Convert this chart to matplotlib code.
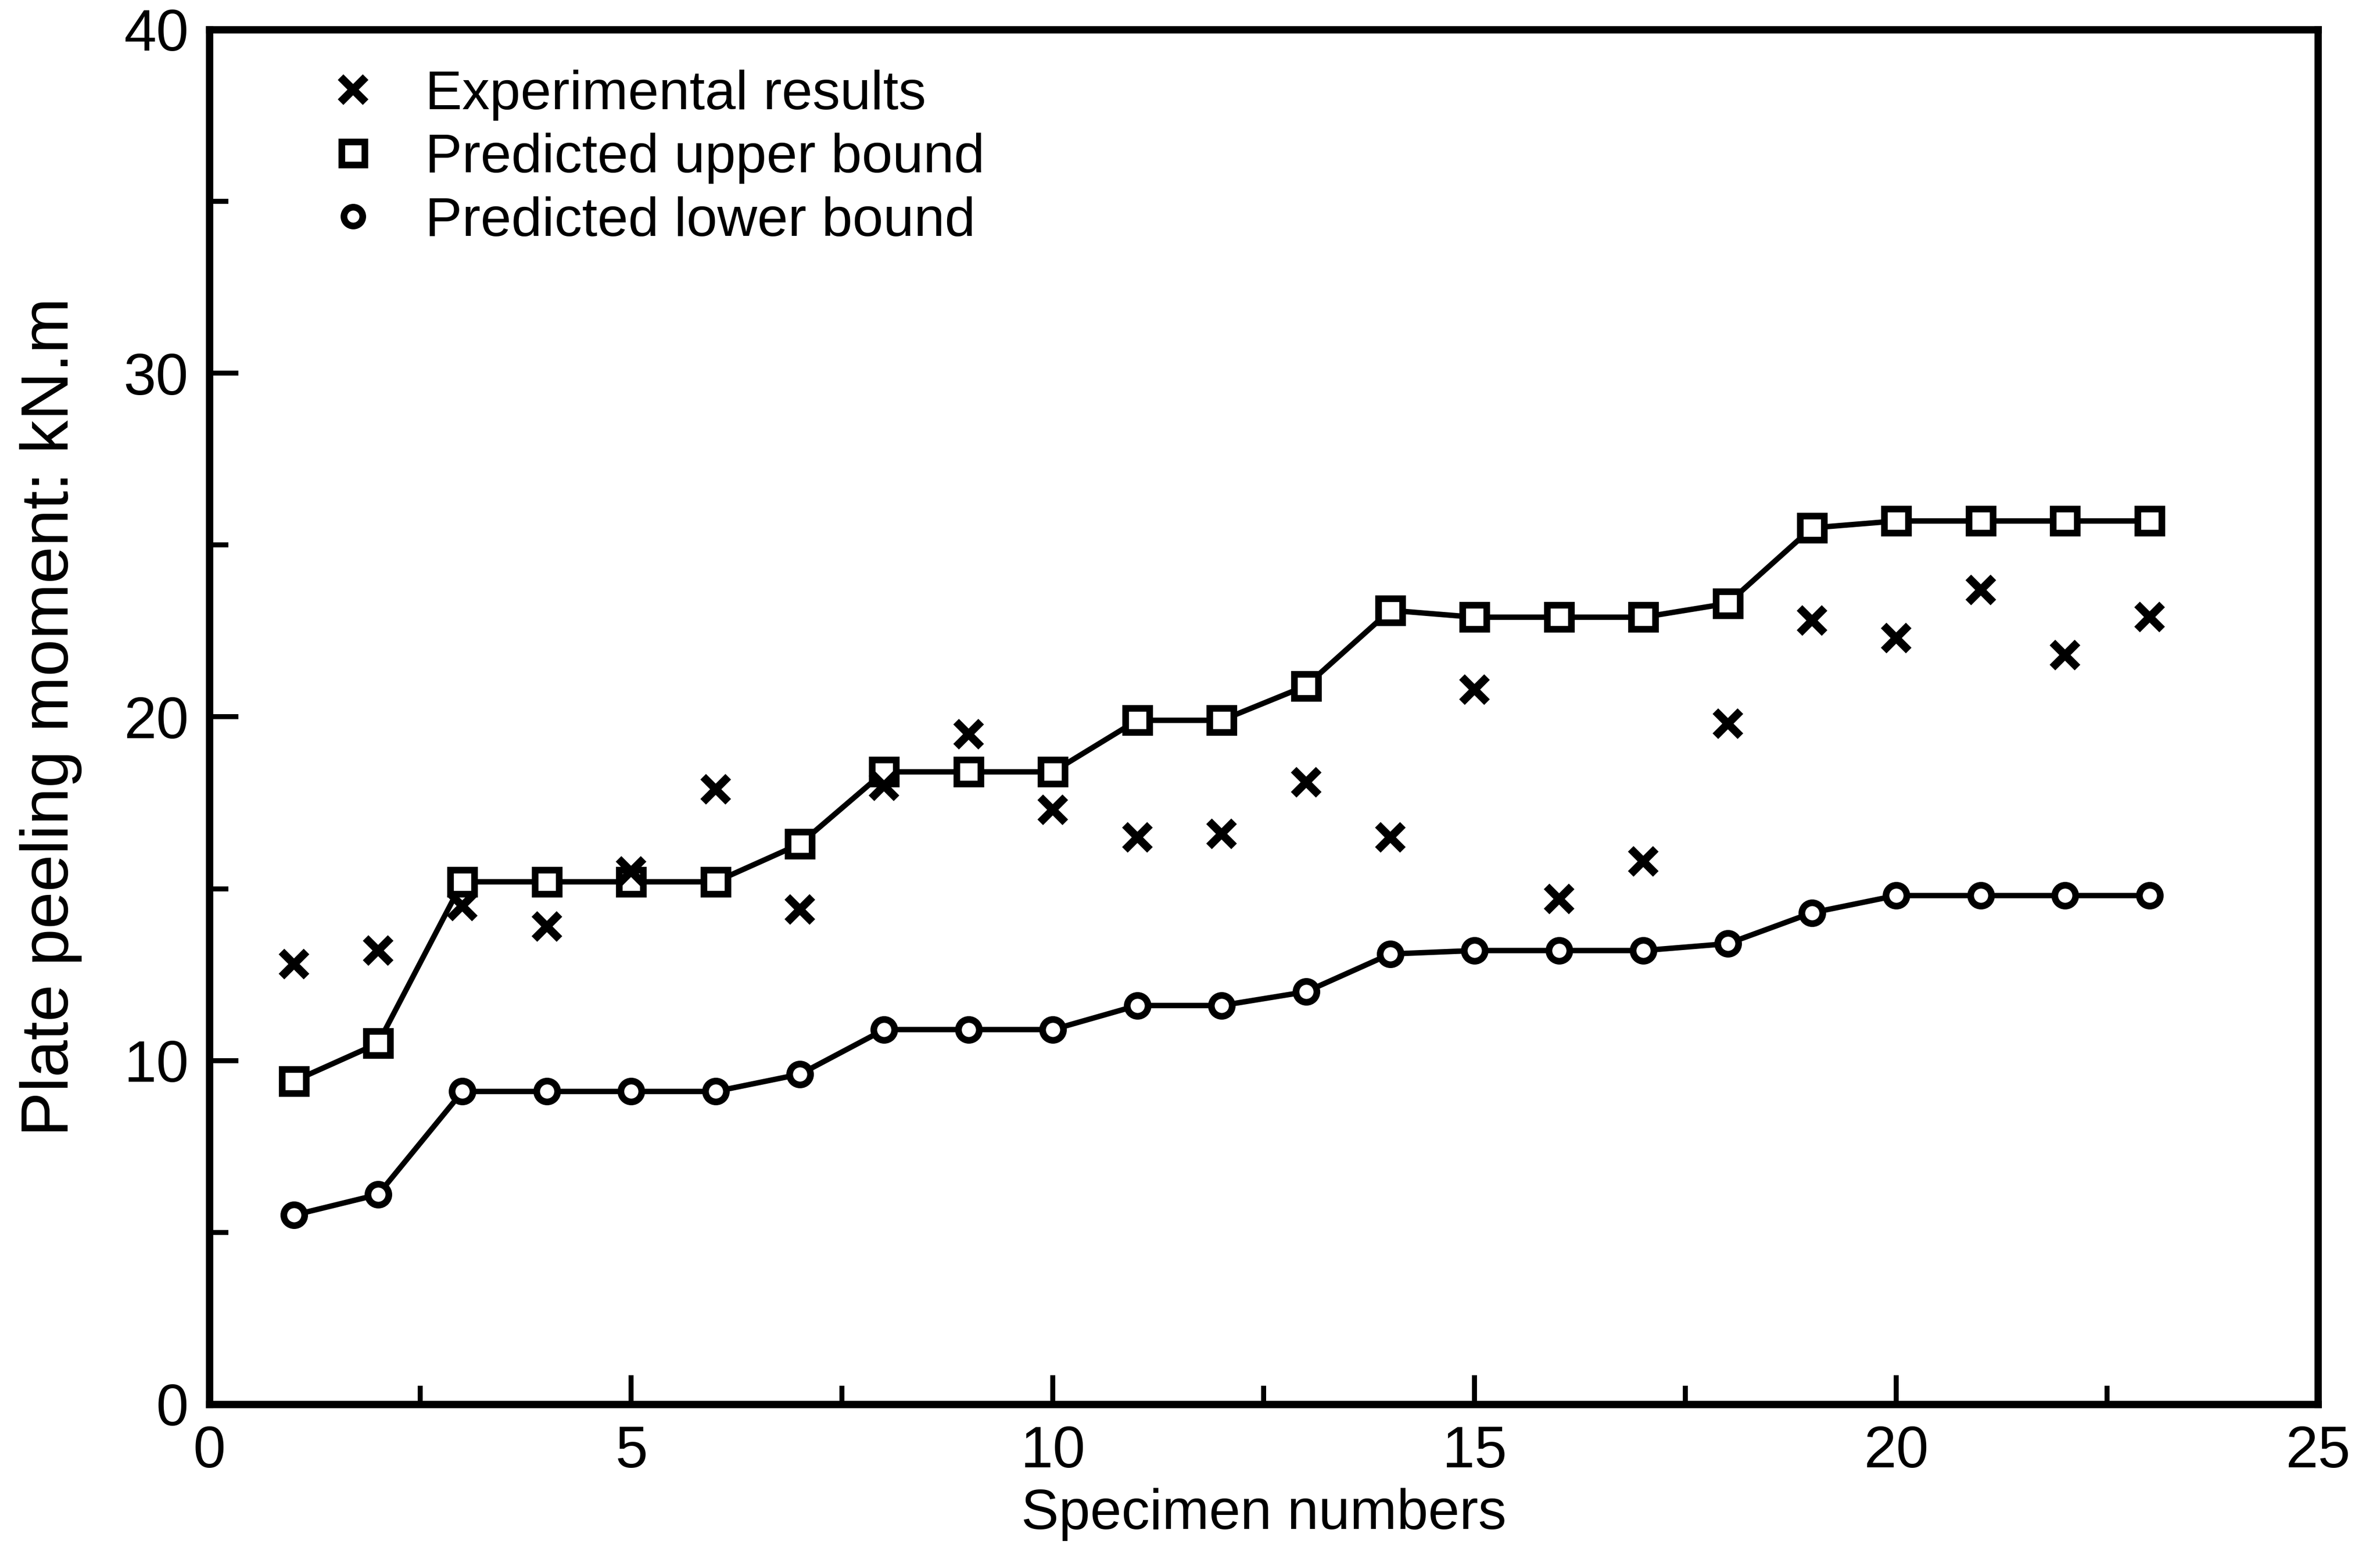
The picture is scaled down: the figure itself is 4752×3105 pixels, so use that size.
import numpy as np
import matplotlib.pyplot as plt
from matplotlib.lines import Line2D
from matplotlib.ticker import MultipleLocator

plt.rcParams['font.family'] = ['Liberation Sans', 'DejaVu Sans']

specimen = np.arange(1, 24)

experimental = [12.8, 13.2, 14.5, 13.9, 15.5, 17.9, 14.4, 18.0, 19.5, 17.3,
                16.5, 16.6, 18.1, 16.5, 20.8, 14.7, 15.8, 19.8, 22.8, 22.3,
                23.7, 21.8, 22.9]
upper_bound = [9.4, 10.5, 15.2, 15.2, 15.2, 15.2, 16.3, 18.4, 18.4, 18.4,
               19.9, 19.9, 20.9, 23.1, 22.9, 22.9, 22.9, 23.3, 25.5, 25.7,
               25.7, 25.7, 25.7]
lower_bound = [5.5, 6.1, 9.1, 9.1, 9.1, 9.1, 9.6, 10.9, 10.9, 10.9,
               11.6, 11.6, 12.0, 13.1, 13.2, 13.2, 13.2, 13.4, 14.3, 14.8,
               14.8, 14.8, 14.8]

fig = plt.figure(figsize=(15.84, 10.35), dpi=300)
ax = fig.add_axes([0.088, 0.097, 0.886, 0.884])

ax.plot(specimen, upper_bound, color='black', lw=2.6, marker='s', ms=11.5,
        mfc='white', mec='black', mew=3.2, zorder=3)
ax.plot(specimen, lower_bound, color='black', lw=2.6, marker='o', ms=10,
        mfc='white', mec='black', mew=3.2, zorder=3)
ax.plot(specimen, experimental, ls='none', marker='x', ms=12, mec='black',
        mew=3.8, zorder=4)

ax.set_xlim(0, 25)
ax.set_ylim(0, 40)
ax.xaxis.set_major_locator(MultipleLocator(5))
ax.xaxis.set_minor_locator(MultipleLocator(2.5))
ax.yaxis.set_major_locator(MultipleLocator(10))
ax.yaxis.set_minor_locator(MultipleLocator(5))
ax.tick_params(which='both', direction='in', width=2.4, labelsize=28, pad=10)
ax.tick_params(which='major', length=14)
ax.tick_params(which='minor', length=9)
for s in ax.spines.values():
    s.set_linewidth(3.5)

ax.set_xlabel('Specimen numbers', fontsize=27, labelpad=4)
ax.set_ylabel('Plate peeling moment: kN.m', fontsize=32, labelpad=20)

handles = [
    Line2D([], [], ls='none', marker='x', ms=12, mec='black', mew=3.8),
    Line2D([], [], ls='none', marker='s', ms=11, mfc='white', mec='black', mew=3.2),
    Line2D([], [], ls='none', marker='o', ms=9, mfc='white', mec='black', mew=3.2),
]
labels = ['Experimental results', 'Predicted upper bound', 'Predicted lower bound']
ax.legend(handles, labels, loc='upper left', bbox_to_anchor=(0.042, 0.995),
          frameon=False, fontsize=26.5, handlelength=0.8, handletextpad=0.9,
          labelspacing=0.22, borderaxespad=0.2)

fig.savefig('out.png', dpi=300)
